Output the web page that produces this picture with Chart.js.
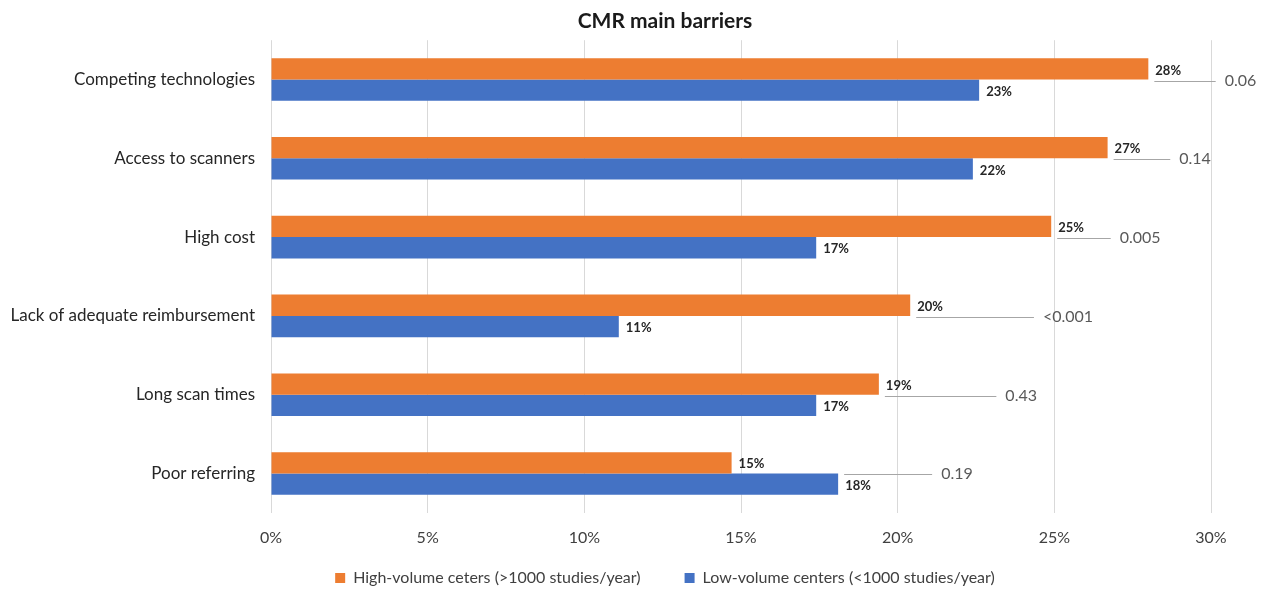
<!DOCTYPE html>
<html lang="en">
<head>
  <meta charset="UTF-8">
  <title>CMR main barriers</title>
  <style>
    html, body { margin: 0; padding: 0; background: #fff; }
    #chart-wrap { width: 1263px; height: 590px; }
  </style>
</head>
<body>
  <div id="chart-wrap"><canvas id="barriers-chart"></canvas></div>

  <script src="https://cdn.jsdelivr.net/npm/chart.js"></script>
  <script>
    // values (percent of centers)
    const categories = [
      'Competing technologies',
      'Access to scanners',
      'High cost',
      'Lack of adequate reimbursement',
      'Long scan times',
      'Poor referring'
    ];
    const highVolume = [28.0, 26.7, 24.9, 20.4, 19.4, 14.7];
    const lowVolume = [22.6, 22.4, 17.4, 11.1, 17.4, 18.1];
    const pValues = ['0.06', '0.14', '0.005', '<0.001', '0.43', '0.19'];
    // where each p-value leader line ends, in percent units
    const pLineEnd = [30.15, 28.7, 26.8, 24.35, 23.15, 21.1];
    const xMin = 0;
    const xMax = 30;
    const xStep = 5;

    const FONT = 'Lato, "Open Sans", sans-serif';

    const barLabels = {
      id: 'barLabels',
      afterDatasetsDraw(chart) {
        const ctx = chart.ctx;
        ctx.save();
        ctx.font = 'bold 13px ' + FONT;
        ctx.fillStyle = '#262626';
        ctx.textAlign = 'left';
        ctx.textBaseline = 'middle';
        chart.data.datasets.forEach((ds, di) => {
          chart.getDatasetMeta(di).data.forEach((bar, i) => {
            ctx.fillText(Math.round(ds.data[i]) + '%', bar.x + 7, bar.y + 1.5);
          });
        });
        ctx.restore();
      }
    };

    const pValueNotes = {
      id: 'pValueNotes',
      afterDatasetsDraw(chart) {
        const ctx = chart.ctx;
        const xScale = chart.scales.x;
        const yScale = chart.scales.y;
        const hi = chart.getDatasetMeta(0).data;
        const lo = chart.getDatasetMeta(1).data;
        ctx.save();
        ctx.strokeStyle = '#a6a6a6';
        ctx.lineWidth = 1;
        ctx.font = '16px ' + FONT;
        ctx.fillStyle = '#595959';
        ctx.textAlign = 'left';
        ctx.textBaseline = 'middle';
        pValues.forEach((p, i) => {
          const y = Math.round(yScale.getPixelForValue(i)) + 1.5;
          const x0 = Math.max(hi[i].x, lo[i].x) + 6;
          const x1 = xScale.getPixelForValue(pLineEnd[i]);
          ctx.beginPath();
          ctx.moveTo(x0, y);
          ctx.lineTo(x1, y);
          ctx.stroke();
          ctx.fillText(p, x1 + 9, y - 1);
        });
        ctx.restore();
      }
    };

    const ctx = document.getElementById('barriers-chart').getContext('2d');
    const barriersChart = new Chart(ctx, {
      type: 'bar',
      data: {
        labels: categories,
        datasets: [
          {
            label: 'High-volume ceters (>1000 studies/year)',
            data: highVolume,
            backgroundColor: '#ED7D31',
            borderWidth: 0
          },
          {
            label: 'Low-volume centers (<1000 studies/year)',
            data: lowVolume,
            backgroundColor: '#4472C4',
            borderWidth: 0
          }
        ]
      },
      options: {
        indexAxis: 'y',
        responsive: true,
        maintainAspectRatio: false,
        animation: false,
        categoryPercentage: 0.54,
        barPercentage: 1.0,
        // negative right padding shifts title/legend centre right like the original
        layout: {
          padding: { left: 10, right: -57, top: 0, bottom: -6 }
        },
        plugins: {
          title: {
            display: true,
            text: 'CMR main barriers',
            color: '#1a1a1a',
            font: { family: FONT, size: 21, weight: 'bold' },
            padding: { top: 9, bottom: 6 }
          },
          legend: {
            position: 'bottom',
            labels: {
              boxWidth: 10,
              boxHeight: 10,
              padding: 8,
              color: '#404040',
              font: { family: FONT, size: 16 },
              // wider gap between the two entries without a taller legend
              generateLabels(chart) {
                const items = Chart.defaults.plugins.legend.labels.generateLabels(chart);
                items[0].text += '\u2003\u2003\u2003';
                return items;
              }
            }
          },
          tooltip: { enabled: false }
        },
        scales: {
          x: {
            min: xMin,
            max: xMax,
            ticks: {
              stepSize: xStep,
              padding: 15,
              color: '#404040',
              font: { family: FONT, size: 16 },
              callback: (v) => v + '%'
            },
            grid: { color: '#d9d9d9', drawTicks: false },
            border: { display: false }
          },
          y: {
            ticks: {
              padding: 16,
              color: '#262626',
              font: { family: FONT, size: 17 }
            },
            grid: { display: false, drawTicks: false },
            border: { display: false },
            afterFit(scale) {
              scale.width = 261;
            }
          },
          // empty spacer on the right, leaves room for the p-values
          yRight: {
            type: 'linear',
            position: 'right',
            ticks: { display: false },
            grid: { display: false, drawTicks: false },
            border: { display: false },
            afterFit(scale) {
              scale.width = 109;
            }
          }
        }
      },
      plugins: [barLabels, pValueNotes]
    });
  </script>
</body>
</html>
